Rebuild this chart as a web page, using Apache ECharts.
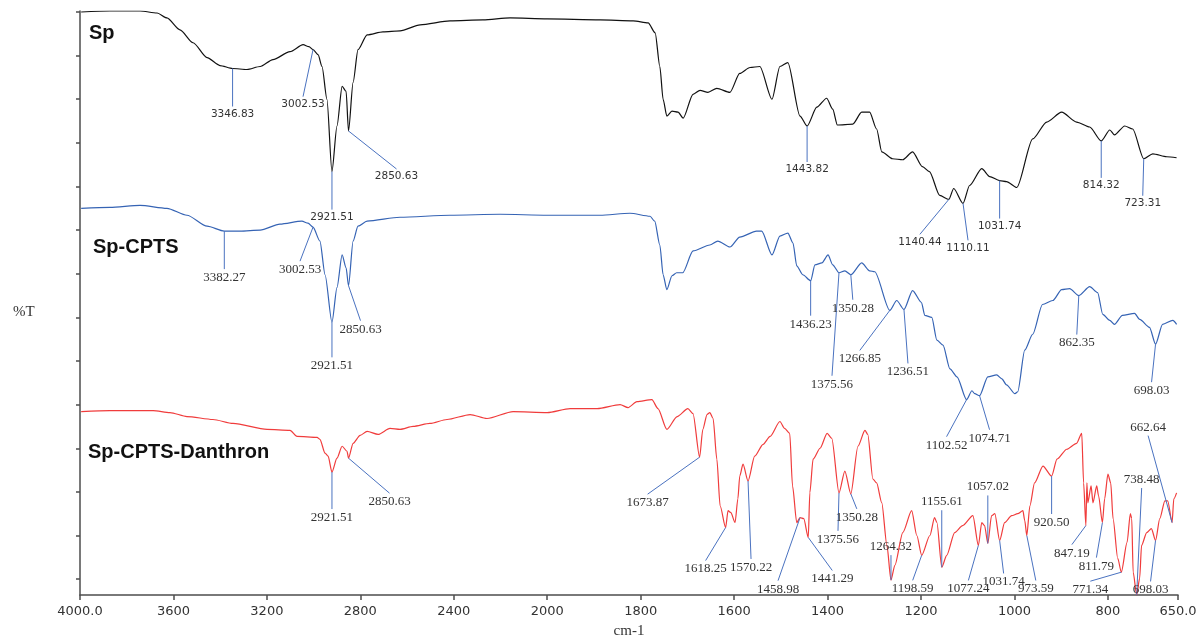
<!DOCTYPE html>
<html>
<head>
<meta charset="utf-8">
<title>FTIR spectra</title>
<script src="https://cdn.jsdelivr.net/npm/echarts@6/dist/echarts.min.js"></script>
<style>
  html, body { margin: 0; padding: 0; background: #fff; }
  #chart { width: 1203px; height: 644px; }
</style>
</head>
<body>
<div id="chart"></div>
<script>
// Spectra: [wavenumber (cm-1), stacked %T in plot units]
const spTrace = [[3995,588],[3872,589],[3743,589],[3670,587],[3628,582],[3572,570],[3516,557],[3456,542],[3401,534],[3346.83,531],[3285,530],[3229,533],[3174,540],[3101,548],[3045,555],[3020,553],[3002.53,550],[2981,545],[2964,533],[2943,500],[2921.51,427],[2900,473],[2878,513],[2861,508],[2850.63,468],[2831,517],[2810,550],[2771,565],[2703,568],[2630,569],[2544,575],[2416,579],[2275,580],[2159,582],[2000,581],[1887,580],[1816,579],[1784,577],[1769,567],[1759,533],[1752,500],[1744,483],[1733,488],[1720,487],[1709,481],[1688,505],[1673,509],[1656,507],[1637,511],[1609,507],[1588,526],[1566,532],[1545,533],[1519,500],[1502,533],[1485,537],[1459,483],[1443.82,473],[1423,492],[1402,501],[1389,490],[1379,474],[1346,475],[1327,487],[1310,487],[1295,470],[1284,447],[1261,440],[1239,439],[1218,447],[1197,432],[1182,427],[1160,403],[1140.44,399],[1130,410],[1110.11,395],[1096,413],[1070,430],[1053,422],[1031.74,418],[1017,417],[995,411],[961,460],[931,477],[899,487],[867,477],[839,472],[814.32,458],[796,469],[786,464],[764,473],[747,470],[723.31,440],[704,445],[674,442],[653,441]];

const spCptsTrace = [[3995,390],[3872,391],[3743,393],[3628,390],[3542,383],[3456,372],[3382.27,367],[3315,367],[3229,368],[3144,374],[3050,377],[3024,375],[3002.53,371],[2973,357],[2951,323],[2921.51,275],[2900,310],[2878,343],[2861,330],[2850.63,312],[2831,357],[2810,372],[2771,377],[2630,381],[2416,383],[2202,384],[2000,383],[1887,383],[1823,385],[1780,382],[1770,377],[1759,353],[1752,323],[1744,308],[1733,322],[1723,325],[1710,325],[1688,347],[1652,353],[1635,357],[1609,351],[1588,361],[1552,367],[1541,367],[1519,343],[1502,362],[1485,365],[1474,355],[1466,332],[1453,323],[1436.23,317],[1427,333],[1412,335],[1399,343],[1389,333],[1375.56,325],[1363,327],[1350.28,323],[1327,335],[1310,327],[1299,326],[1266.85,287],[1252,297],[1236.51,288],[1218,307],[1199,295],[1192,282],[1177,280],[1166,257],[1153,252],[1138,228],[1123,220],[1102.52,197],[1091,206],[1085,203],[1074.71,201],[1057,220],[1038,222],[1027,218],[1017,212],[999,203],[993,205],[978,247],[961,263],[940,293],[918,297],[899,308],[882,309],[862.35,302],[839,311],[822,305],[811,283],[796,277],[786,273],[769,282],[743,284],[732,278],[711,270],[698.03,253],[683,273],[661,277],[653,273]];

const danthronTrace = [[3995,185],[3872,186],[3687,186],[3615,184],[3542,180],[3431,177],[3345,173],[3199,167],[3101,166],[3071,160],[2985,159],[2973,157],[2951,143],[2938,140],[2921.51,124],[2900,138],[2878,150],[2857,145],[2850.63,138],[2831,153],[2801,161],[2771,165],[2724,162],[2673,168],[2630,167],[2574,170],[2502,173],[2429,177],[2330,182],[2258,178],[2146,185],[2000,184],[1951,188],[1893,188],[1844,192],[1827,189],[1808,195],[1776,197],[1763,188],[1744,167],[1722,180],[1699,188],[1688,183],[1673.87,139],[1667,167],[1658,182],[1652,184],[1645,178],[1637,137],[1630,90],[1618.25,68],[1613,85],[1607,83],[1598,73],[1592,97],[1588,120],[1581,132],[1570.22,115],[1556,140],[1538,152],[1523,160],[1502,175],[1492,168],[1481,163],[1475,110],[1466,73],[1458.98,78],[1451,77],[1441.29,58],[1438,103],[1431,137],[1416,148],[1401,163],[1391,158],[1375.56,103],[1363,125],[1350.28,102],[1335,150],[1320,166],[1314,162],[1303,117],[1295,113],[1284,93],[1273,50],[1264.32,15],[1256,30],[1239,63],[1220,85],[1209,60],[1198.59,40],[1181,60],[1171,78],[1166,73],[1155.61,28],[1145,40],[1128,63],[1111,70],[1089,80],[1077.24,50],[1070,73],[1064,70],[1057.02,52],[1049,80],[1042,82],[1031.74,55],[1021,73],[1006,80],[993,82],[982,85],[978,75],[973.59,60],[967,90],[957,113],[939,130],[920.50,120],[909,137],[888,147],[867,153],[856,163],[852,113],[847.19,70],[845,113],[843,93],[836,110],[832,93],[824,110],[820,100],[811.79,73],[807,97],[800,122],[794,113],[789,77],[779,37],[771.34,23],[759,53],[752,82],[749,77],[746,23],[738.48,0],[732,17],[728,50],[717,63],[707,67],[698.03,55],[689,77],[678,95],[672,95],[662.64,73],[659,97],[653,103]];

// Labelled band positions (cm-1)
const spPeaks = [3346.83, 3002.53, 2921.51, 2850.63, 1443.82, 1140.44, 1110.11, 1031.74, 814.32, 723.31];
const spCptsPeaks = [3382.27, 3002.53, 2921.51, 2850.63, 1436.23, 1375.56, 1350.28, 1266.85, 1236.51, 1102.52, 1074.71, 862.35, 698.03];
const danthronPeaks = [2921.51, 2850.63, 1673.87, 1618.25, 1570.22, 1458.98, 1441.29, 1375.56, 1350.28, 1264.32, 1198.59, 1155.61, 1077.24, 1057.02, 1031.74, 973.59, 920.50, 847.19, 811.79, 771.34, 738.48, 698.03, 662.64];

// Axis tick marks (cm-1)
const xTickWavenumbers = [4000, 3600, 3200, 2800, 2400, 2000, 1800, 1600, 1400, 1200, 1000, 800, 650];

const traceNames = ['Sp', 'Sp-CPTS', 'Sp-CPTS-Danthron'];

// Leader-line displacement (px) from each band to its label
const spLeader = [[0,38],[-10,47],[0,38],[48,38],[0,36],[-29,35],[5,37],[0,38],[0,37],[-1,37]];
const spCptsLeader = [[0,38],[-13,34],[0,35],[12,35],[0,35],[-7,103],[2,25],[-30,40],[4,54],[-20,37],[10,34],[-2,39],[-4,38]];
const danthronLeader = [[0,37],[41,35],[-52,37],[-20,33],[3,78],[-22,63],[24,33],[-1,38],[6,15],[0,-25],[-9,25],[0,-57],[-10,35],[0,-48],[4,33],[9,45],[0,38],[-14,19],[-6,35],[-31,9],[5,-107],[-5,41],[-24,-87]];

// The wavenumber axis is drawn at double scale below 2000 cm-1
function toAxis(wn) {
  return wn >= 2000 ? 4000 - wn : 2000 + (2000 - wn) * 2;
}
function fromAxis(p) {
  return p <= 2000 ? 4000 - p : 2000 - (p - 2000) / 2;
}

function lineData(trace) {
  return trace.map(([wn, v]) => [toAxis(wn), v]);
}

function peakData(trace, peaks) {
  return peaks.map(wn => {
    const pt = trace.find(d => d[0] === wn);
    return [toAxis(wn), pt[1], wn];
  });
}

function peakSeries(trace, peaks, leader, font) {
  return {
    type: 'custom',
    coordinateSystem: 'cartesian2d',
    data: peakData(trace, peaks),
    encode: { x: 0, y: 1 },
    clip: false,
    silent: true,
    z: 5,
    renderItem: function (params, api) {
      const pt = api.coord([api.value(0), api.value(1)]);
      const off = leader[params.dataIndex];
      const ex = pt[0] + off[0];
      const ey = pt[1] + off[1];
      const below = off[1] > 0;
      return {
        type: 'group',
        children: [
          {
            type: 'line',
            shape: { x1: pt[0], y1: pt[1], x2: ex, y2: ey },
            style: { stroke: '#4a72c0', lineWidth: 1 }
          },
          {
            type: 'text',
            x: ex,
            y: below ? ey + 2 : ey - 2,
            style: {
              text: api.value(2).toFixed(2),
              font: font,
              fill: '#333',
              align: 'center',
              verticalAlign: below ? 'top' : 'bottom'
            }
          }
        ]
      };
    }
  };
}

const xTicks = xTickWavenumbers.map(toAxis);
const yTicks = [16, 60, 104, 148, 192, 236, 280, 324, 368, 412, 456, 500, 544, 588];

const chart = echarts.init(document.getElementById('chart'), null, { renderer: 'canvas' });

const lineBase = {
  type: 'line',
  showSymbol: false,
  silent: true,
  smooth: 0.25,
  smoothMonotone: 'x',
  z: 3
};

chart.setOption({
  animation: false,
  backgroundColor: '#ffffff',
  grid: { left: 80, right: 25, top: 11, bottom: 44 },
  xAxis: {
    type: 'value',
    min: 0,
    max: 4700,
    name: 'cm-1',
    nameLocation: 'middle',
    nameGap: 29,
    nameTextStyle: { fontFamily: 'Liberation Serif', fontSize: 15, color: '#333' },
    axisLine: { onZero: false, lineStyle: { color: '#4d4d4d', width: 1.5 } },
    axisTick: { customValues: xTicks, length: 5, lineStyle: { color: '#4d4d4d', width: 1.5 } },
    axisLabel: {
      customValues: xTicks,
      margin: 10,
      fontFamily: 'DejaVu Sans',
      fontSize: 13,
      color: '#333',
      formatter: function (p) {
        const wn = Math.round(fromAxis(p));
        return (wn === 4000 || wn === 650) ? wn.toFixed(1) : String(wn);
      }
    },
    splitLine: { show: false }
  },
  yAxis: {
    type: 'value',
    min: 0,
    max: 589,
    axisLine: { show: true, lineStyle: { color: '#4d4d4d', width: 1.5 } },
    axisTick: { show: true, customValues: yTicks, length: 4, lineStyle: { color: '#4d4d4d', width: 1.5 } },
    axisLabel: { show: false },
    splitLine: { show: false }
  },
  graphic: [
    { type: 'text', left: 13, top: 305, style: { text: '%T', font: '15px "Liberation Serif"', fill: '#333' } },
    { type: 'text', x: 89, y: 33, style: { text: traceNames[0], font: 'bold 20px "Liberation Sans"', fill: '#111', verticalAlign: 'middle' } },
    { type: 'text', x: 93, y: 247, style: { text: traceNames[1], font: 'bold 20px "Liberation Sans"', fill: '#111', verticalAlign: 'middle' } },
    { type: 'text', x: 88, y: 452, style: { text: traceNames[2], font: 'bold 20px "Liberation Sans"', fill: '#111', verticalAlign: 'middle' } }
  ],
  series: [
    Object.assign({}, lineBase, { name: traceNames[0], data: lineData(spTrace), lineStyle: { color: '#111111', width: 1.2 } }),
    Object.assign({}, lineBase, { name: traceNames[1], data: lineData(spCptsTrace), lineStyle: { color: '#3563b4', width: 1.2 } }),
    Object.assign({}, lineBase, { name: traceNames[2], data: lineData(danthronTrace), lineStyle: { color: '#f03c3c', width: 1.2 } }),
    peakSeries(spTrace, spPeaks, spLeader, '10.5px "DejaVu Sans"'),
    peakSeries(spCptsTrace, spCptsPeaks, spCptsLeader, '13px "Liberation Serif"'),
    peakSeries(danthronTrace, danthronPeaks, danthronLeader, '13px "Liberation Serif"')
  ]
});
</script>
</body>
</html>
